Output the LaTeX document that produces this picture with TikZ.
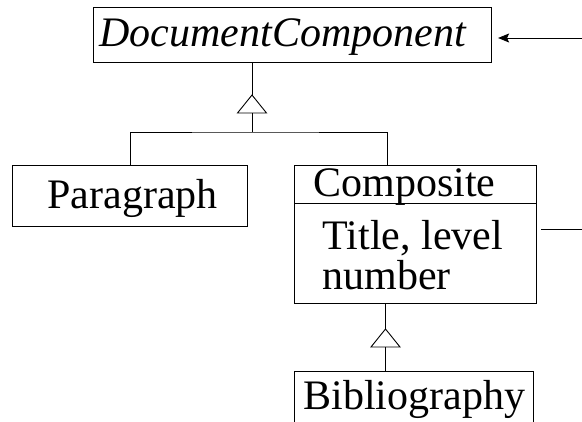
\documentclass[tikz,border=0pt]{standalone}
\usepackage{fontspec}
\setmainfont{Liberation Serif}
\usetikzlibrary{arrows.meta}
\begin{document}
\begin{tikzpicture}[x=1pt,y=-1pt, line width=1pt,
  umlbox/.style={draw, line width=1.1pt, inner sep=0pt, anchor=north west},
  lbl/.style={inner sep=0pt, anchor=base west, font=\fontsize{42}{50}\selectfont},
  gen/.style={draw, fill=white, line width=0.9pt},
  wire/.style={draw, line width=0.9pt}]
\useasboundingbox (0,0) rectangle (582,422);
\clip (0,0) rectangle (582,422);
% boxes
\node[umlbox, minimum width=398pt, minimum height=55pt] (dc) at (93,7) {};
\node[lbl, font=\fontsize{42}{50}\selectfont\itshape] (dct) at (99,47) {DocumentComponent};
\node[umlbox, minimum width=235pt, minimum height=61pt] (para) at (12,165) {};
\node[lbl] (parat) at (47,209) {Paragraph};
\node[umlbox, minimum width=242pt, minimum height=138pt] (comp) at (294,165) {};
\node[lbl] (compt) at (313,197) {Composite};
\node[lbl] (compa) at (322,250) {Title, level};
\node[lbl] (compb) at (322,290) {number};
\draw[line width=1.1pt] (comp.west |- 0,203.5) -- (comp.east |- 0,203.5);
\node[umlbox, minimum width=239pt, minimum height=100pt] (bib) at (294,371) {};
\node[lbl] (bibt) at (303,410) {Bibliography};
% generalization 1
\coordinate (g1) at (252,95);
\coordinate (g1b) at (252,113);
\coordinate (j1) at (252,132);
\coordinate (cin) at (387,165);
\draw[wire] (dc.south -| g1) -- (g1);
\draw[wire] (g1b) -- (j1);
\draw[wire] (para.north) |- (j1) -| (cin);
\draw[gen] (g1) -- ++(14.5,18) -- ++(-29,0) -- cycle;
% generalization 2
\coordinate (g2) at (385.5,329);
\coordinate (g2b) at (385.5,347);
\draw[wire] (comp.south -| g2) -- (g2);
\draw[wire] (g2b) -- (bib.north -| g2b);
\draw[gen] (g2) -- ++(14.5,18) -- ++(-29,0) -- cycle;
% aggregation wires to the right edge
\coordinate (rin) at (582,38);
\coordinate (rout) at (582,229);
\draw[wire, -{Stealth[length=11pt,width=9pt,inset=2pt]}, shorten >=6pt] (rin) -- (dc.east |- rin);
\draw[wire, shorten <=4pt] (comp.east |- rout) -- (rout);
\end{tikzpicture}
\end{document}
